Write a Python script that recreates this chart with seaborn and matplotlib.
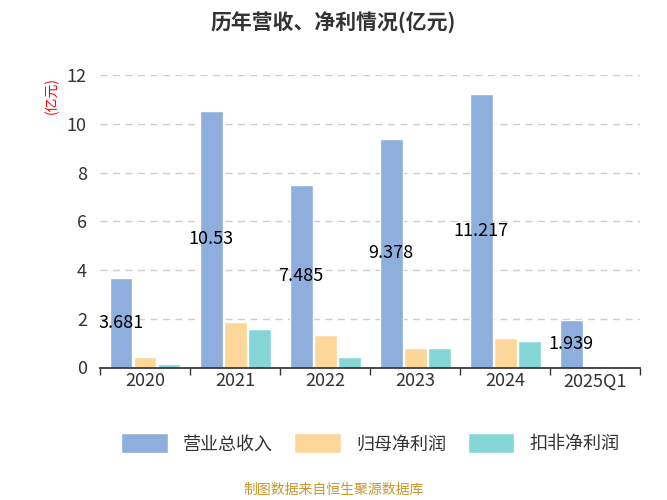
import matplotlib
matplotlib.use("Agg")
import matplotlib.pyplot as plt
import seaborn as sns
import pandas as pd

years = ["2020", "2021", "2022", "2023", "2024", "2025Q1"]
revenue = [3.681, 10.53, 7.485, 9.378, 11.217, 1.939]
net_profit = [0.42, 1.85, 1.35, 0.82, 1.2, 0.05]
deducted_profit = [0.15, 1.6, 0.45, 0.8, 1.1, 0.03]
series = ["营业总收入", "归母净利润", "扣非净利润"]
colors = ["#8eaedd", "#fdd79a", "#86d6d8"]

sns.set_theme(style="white")
plt.rcParams['font.family'] = ['Noto Sans CJK SC', 'DejaVu Sans']

df = pd.DataFrame({
    "year": years * 3,
    "value": revenue + net_profit + deducted_profit,
    "series": [series[0]] * 6 + [series[1]] * 6 + [series[2]] * 6,
})

fig = plt.figure(figsize=(6.67, 5), dpi=100)
ax = fig.add_axes([0.15, 0.265, 0.81, 0.585])
sns.barplot(data=df, x="year", y="value", hue="series", palette=colors,
            saturation=1, width=0.8, gap=0.05, ax=ax, legend=True)

for i, v in enumerate(revenue):
    ax.text(i - 0.27, v / 2, "10.53" if v == 10.53 else f"{v:g}",
            ha="center", va="center", fontsize=13, color="black")

ax.set_ylim(0, 12)
ax.set_yticks(range(0, 13, 2))
ax.set_xlim(-0.5, 5.5)
ax.grid(axis="y", linestyle=(0, (5, 4)), color="#cccccc", linewidth=1)
ax.set_axisbelow(True)
for s in ["top", "right", "left"]:
    ax.spines[s].set_visible(False)
ax.spines["bottom"].set_color("#333333")
ax.tick_params(axis="both", labelsize=13, labelcolor="#333333")
ax.set_xticks([i + 0.5 for i in range(-1, 6)], minor=True)
ax.tick_params(axis="x", which="minor", bottom=True, length=5, color="#333333")
ax.tick_params(axis="x", which="major", length=0)
ax.set_xlabel("")
ax.set_ylabel("")
ax.text(-0.09, 0.93, "(亿元)", transform=ax.transAxes, rotation=90,
        color="red", fontsize=10, ha="center", va="center")

h, l = ax.get_legend_handles_labels()
ax.legend(h, l, loc="upper center", bbox_to_anchor=(0.5, -0.17), ncol=3,
          frameon=False, fontsize=13, handlelength=2.6, handleheight=1.3,
          columnspacing=1.2, labelcolor="#333333")

fig.text(0.5, 0.955, "历年营收、净利情况(亿元)", ha="center", va="center",
         fontsize=15, fontweight="bold", color="#333333")
fig.text(0.5, 0.02, "制图数据来自恒生聚源数据库", ha="center", va="center",
         fontsize=10, color="#c8962e")

fig.savefig("out.png", dpi=100)
